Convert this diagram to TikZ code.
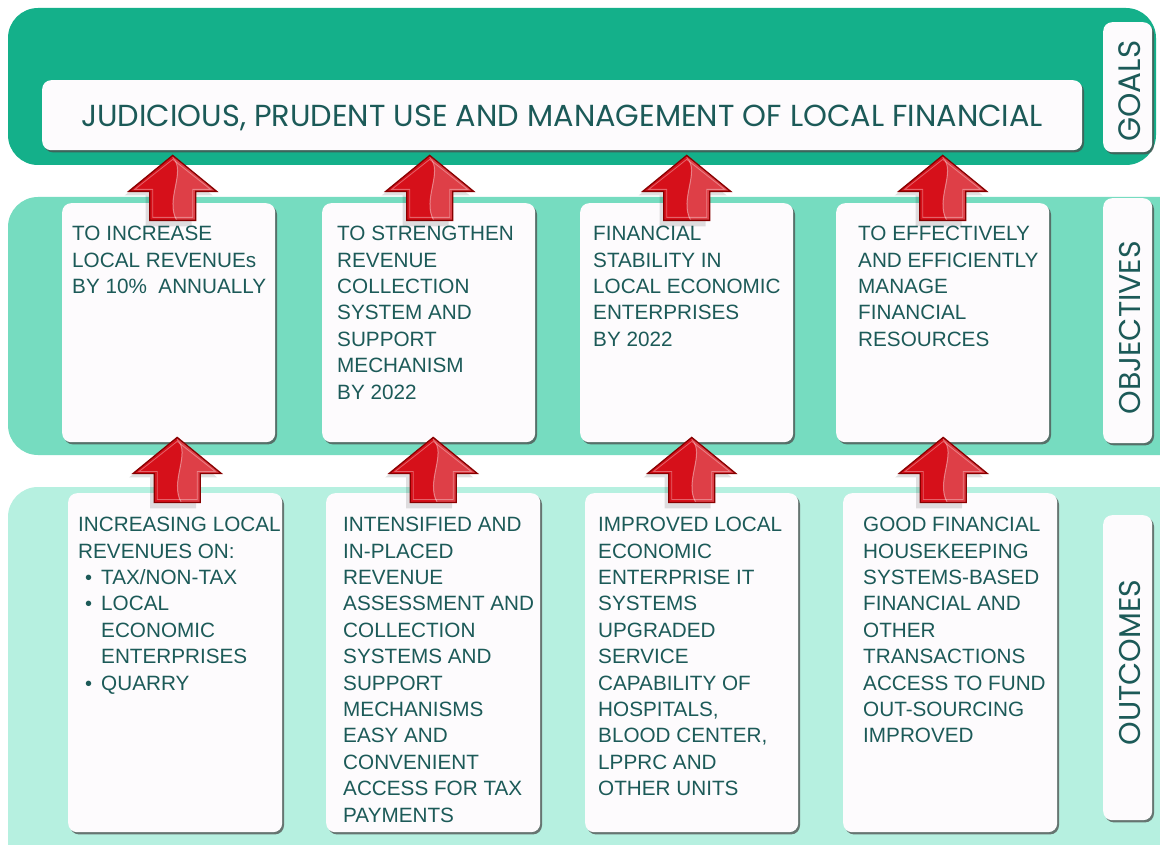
\documentclass[tikz,border=0pt]{standalone}
\usepackage{fontspec}
\setmainfont{Liberation Sans}
\newfontfamily\gothic{Poppins}
\usetikzlibrary{shadows,calc}

\definecolor{goalband}{RGB}{20,176,138}
\definecolor{objband}{RGB}{118,220,192}
\definecolor{outband}{RGB}{182,240,224}
\definecolor{cardfill}{RGB}{253,251,253}
\definecolor{inktext}{RGB}{28,90,88}
\definecolor{arrowred}{RGB}{214,16,26}
\definecolor{arrowdark}{RGB}{135,0,0}

\tikzset{
  band/.style={fill=#1, draw=none, rounded corners=30pt},
  card/.style={fill=cardfill, draw=none, rounded corners=9pt, anchor=north west,
    drop shadow={shadow xshift=1.8pt, shadow yshift=-2.2pt, fill=black!70, opacity=.75}},
  cardtext/.style={anchor=north west, inner sep=0pt, align=left, text=inktext,
    font=\fontsize{20.7}{26.4}\selectfont},
  sidelabel/.style={rotate=90, text=inktext, inner sep=0pt,
    font=\gothic\fontsize{30}{34}\selectfont},
}

\newcommand\bul{\makebox[23pt][l]{\hspace{7pt}\fontsize{20}{20}\selectfont\textbullet}}

% upward block arrow, tip at the current origin
\newcommand\blockup{%
  \path[fill=black, opacity=.12] (-4,4) -- (40,40) -- (19,40) -- (19,71) -- (-27,71) -- (-27,40) -- (-48,40) -- cycle;
  \fill[arrowred] (0,0) -- (44,36) -- (23,36) -- (23,65) -- (-23,65) -- (-23,36) -- (-44,36) -- cycle;
  \begin{scope}
    \clip (0,0) -- (44,36) -- (23,36) -- (23,65) -- (-23,65) -- (-23,36) -- (-44,36) -- cycle;
    \fill[white, opacity=.2] (0,0) .. controls (14,16) and (-8,44) .. (4,65) -- (50,65) -- (50,0) -- cycle;
    \draw[white, opacity=.4, line width=1pt] (0,2) .. controls (14,16) and (-8,44) .. (4,65);
  \end{scope}
  \draw[white, opacity=.35, line width=0.8pt] (0,4) -- (38,34) -- (20,34) -- (20,62) -- (-20,62) -- (-20,34) -- (-38,34) -- cycle;
  \draw[arrowdark, line width=1.3pt, line join=miter] (0,0) -- (44,36) -- (23,36) -- (23,65) -- (-23,65) -- (-23,36) -- (-44,36) -- cycle;
}

\begin{document}
\begin{tikzpicture}[x=1pt, y=-1pt]
\useasboundingbox (0,0) rectangle (1160,845);
\fill[white] (0,0) rectangle (1160,845);

% three horizontal bands
\fill[band=goalband] (8,8) rectangle (1156,165);
\begin{scope}
  \clip (0,0) rectangle (1160,845);
  \fill[band=objband] (8,197) rectangle (1190,455);
  \fill[band=outband] (8,487) rectangle (1190,880);
\end{scope}

% goal
\node[card, minimum width=1040pt, minimum height=70pt] (goal) at (42,80) {};
\node[text=inktext, inner sep=0pt, font=\gothic\fontsize{30.4}{34}\selectfont]
  at ($(goal.center)+(0,3)$) {JUDICIOUS, PRUDENT USE AND MANAGEMENT OF LOCAL FINANCIAL};

% side labels
\node[card, minimum width=49pt, minimum height=130pt] (lgoal) at (1103,22) {};
\node[sidelabel, font=\gothic\fontsize{31}{34}\selectfont] at ($(lgoal.center)+(2,4)$) {GOALS};
\node[card, minimum width=49pt, minimum height=245pt] (lobj) at (1103,198) {};
\node[sidelabel] at ($(lobj.center)+(2,7)$) {OBJECTIVES};
\node[card, minimum width=49pt, minimum height=305pt] (lout) at (1103,515) {};
\node[sidelabel] at ($(lout.center)+(2,-5)$) {OUTCOMES};

% objectives
\node[card, minimum width=213pt, minimum height=239pt] (o1) at (62,203) {};
\node[card, minimum width=213pt, minimum height=239pt] (o2) at (322,203) {};
\node[card, minimum width=213pt, minimum height=239pt] (o3) at (580,203) {};
\node[card, minimum width=213pt, minimum height=239pt] (o4) at (836,203) {};

\node[cardtext] at ($(o1.north west)+(10,23)$) {TO INCREASE\\LOCAL REVENUEs\\BY 10\%~ ANNUALLY};
\node[cardtext] at ($(o2.north west)+(15,23)$) {TO STRENGTHEN\\REVENUE\\COLLECTION\\SYSTEM AND\\SUPPORT\\MECHANISM\\BY 2022};
\node[cardtext] at ($(o3.north west)+(13,23)$) {FINANCIAL\\STABILITY IN\\LOCAL ECONOMIC\\ENTERPRISES\\BY 2022};
\node[cardtext] at ($(o4.north west)+(22,23)$) {TO EFFECTIVELY\\AND EFFICIENTLY\\MANAGE\\FINANCIAL\\RESOURCES};

% outcomes
\node[card, minimum width=214pt, minimum height=339pt] (u1) at (68,493) {};
\node[card, minimum width=214pt, minimum height=339pt] (u2) at (326,493) {};
\node[card, minimum width=213pt, minimum height=339pt] (u3) at (585,493) {};
\node[card, minimum width=214pt, minimum height=339pt] (u4) at (843,493) {};

\node[cardtext] at ($(u1.north west)+(10,24)$) {INCREASING LOCAL\\REVENUES ON:\\
  \bul TAX/NON-TAX\\
  \bul LOCAL\\
  \hspace{23pt}ECONOMIC\\
  \hspace{23pt}ENTERPRISES\\
  \bul QUARRY};
\node[cardtext] at ($(u2.north west)+(17,24)$) {INTENSIFIED AND\\IN-PLACED\\REVENUE\\ASSESSMENT AND\\COLLECTION\\SYSTEMS AND\\SUPPORT\\MECHANISMS\\EASY AND\\CONVENIENT\\ACCESS FOR TAX\\PAYMENTS};
\node[cardtext] at ($(u3.north west)+(13,24)$) {IMPROVED LOCAL\\ECONOMIC\\ENTERPRISE IT\\SYSTEMS\\UPGRADED\\SERVICE\\CAPABILITY OF\\HOSPITALS,\\BLOOD CENTER,\\LPPRC AND\\OTHER UNITS};
\node[cardtext] at ($(u4.north west)+(20,24)$) {GOOD FINANCIAL\\HOUSEKEEPING\\SYSTEMS-BASED\\FINANCIAL AND\\OTHER\\TRANSACTIONS\\ACCESS TO FUND\\OUT-SOURCING\\IMPROVED};

% arrows: objectives up to the goal
\foreach \o/\dx in {o1/4, o2/1, o3/0, o4/0} {
  \begin{scope}[shift={($(goal.south -| \o.north)+(\dx,5)$)}]
    \blockup
  \end{scope}
}
% arrows: outcomes up to the objectives
\foreach \u/\o/\dx in {u1/o1/2, u2/o2/0, u3/o3/0, u4/o4/-7} {
  \begin{scope}[shift={($(\o.south -| \u.north)+(\dx,-5)$)}]
    \blockup
  \end{scope}
}
\end{tikzpicture}
\end{document}
